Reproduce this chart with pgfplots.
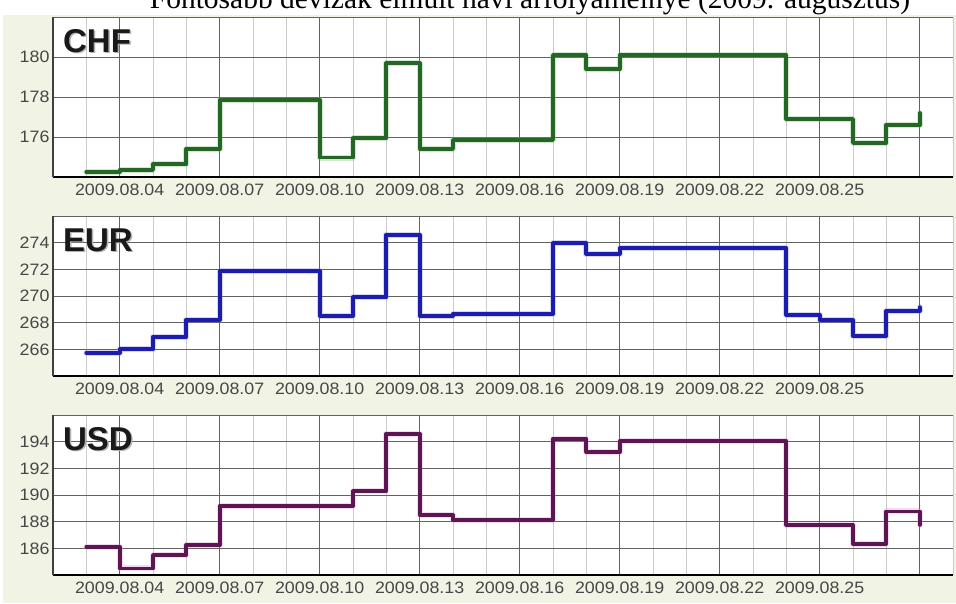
\documentclass[border=0pt]{standalone}
\usepackage{fontspec}
\setmainfont{Liberation Serif}
\newfontfamily\arial{Liberation Sans}
\newfontfamily\arialw[FakeStretch=1.08]{Liberation Sans}
\usepackage{pgfplots}
\usepackage{pgfplotstable}
\pgfplotsset{compat=1.18}

\definecolor{bgbeige}{RGB}{241,243,228}
\definecolor{chfline}{RGB}{36,102,36}
\definecolor{chfglow}{RGB}{110,180,110}
\definecolor{eurline}{RGB}{28,28,175}
\definecolor{eurglow}{RGB}{120,120,230}
\definecolor{usdline}{RGB}{92,22,82}
\definecolor{usdglow}{RGB}{215,140,210}

% daily rates, August 2009 (day of month)
\pgfplotstableread{
day chf    eur    usd
3   174.25 265.75 186.13
4   174.35 266.00 184.49
5   174.63 266.94 185.50
6   175.40 268.22 186.25
7   177.85 271.85 189.19
8   177.85 271.85 189.19
9   177.85 271.85 189.19
10  174.97 268.52 189.19
11  175.93 269.90 190.28
12  179.68 274.60 194.60
13  175.40 268.52 188.49
14  175.85 268.67 188.14
15  175.85 268.67 188.14
16  175.85 268.67 188.14
17  180.10 273.95 194.23
18  179.40 273.16 193.22
19  180.10 273.58 194.05
20  180.10 273.58 194.05
21  180.10 273.58 194.05
22  180.10 273.58 194.05
23  180.10 273.58 194.05
24  176.90 268.59 187.76
25  176.90 268.17 187.76
26  175.70 266.98 186.35
27  176.60 268.89 188.77
28  177.20 269.16 187.76
}\rates

\pgfplotsset{
  panel/.style={
    scale only axis, width=900pt, height=160pt,
    anchor=south west,
    xmin=2, xmax=29,
    xtick={4,7,...,28},
    xticklabels={2009.08.04,2009.08.07,2009.08.10,2009.08.13,2009.08.16,2009.08.19,2009.08.22,2009.08.25,{}},
    minor xtick={2,...,29},
    grid=both,
    major grid style={draw=black!62, line width=0.9pt},
    minor grid style={draw=black!20, line width=0.9pt},
    axis x line*=bottom, axis y line*=left,
    x axis line style={-, black, line width=2pt},
    y axis line style={-, black!75, line width=1.3pt},
    major tick length=0pt, minor tick length=0pt,
    ticklabel style={font=\arialw\fontsize{16.5}{18}\selectfont, text=black!72},
    xticklabel style={yshift=-3.5pt},
    axis background/.style={fill=white},
    clip=false,
  },
  glow/.style={const plot, line join=round, line cap=round, line width=6pt, opacity=0.3},
  core/.style={const plot, line join=round, line cap=round, line width=3.8pt},
}
\newcommand{\panelname}[1]{%
  \node[anchor=base west, inner sep=0pt, font=\arial\bfseries\fontsize{33}{35}\selectfont, text=black!30, xshift=1.5pt, yshift=-1.5pt] at (rel axis cs:0.011,0.78) {#1};
  \node[anchor=base west, inner sep=0pt, font=\arial\bfseries\fontsize{33}{35}\selectfont, text=black!90] at (rel axis cs:0.011,0.78) {#1};}

\begin{document}
\begin{tikzpicture}
\path[use as bounding box] (0,0) rectangle (956pt,603pt);
\fill[bgbeige] (3pt,0) rectangle (956pt,588pt);
\node[anchor=base, inner sep=0pt, font=\fontsize{29.5}{32}\selectfont] at (530pt,594pt)
  {Fontosabb devizák elmúlt havi árfolyamelnye (2009. augusztus)};

\begin{axis}[panel, at={(53pt,426pt)},
  ymin=174, ymax=182, ytick={174,176,...,182}, yticklabels={{},176,178,180,{}}]
\addplot[glow, chfglow] table[x=day, y=chf] {\rates};
\addplot[core, chfline] table[x=day, y=chf] {\rates};
\panelname{CHF}
\end{axis}

\begin{axis}[panel, at={(53pt,227pt)},
  ymin=264, ymax=276, ytick={264,266,...,276}, yticklabels={{},266,268,270,272,274,{}}]
\addplot[glow, eurglow] table[x=day, y=eur] {\rates};
\addplot[core, eurline] table[x=day, y=eur] {\rates};
\panelname{EUR}
\end{axis}

\begin{axis}[panel, at={(53pt,28pt)},
  ymin=184, ymax=196, ytick={184,186,...,196}, yticklabels={{},186,188,190,192,194,{}}]
\addplot[glow, usdglow] table[x=day, y=usd] {\rates};
\addplot[core, usdline] table[x=day, y=usd] {\rates};
\panelname{USD}
\end{axis}
\end{tikzpicture}
\end{document}
